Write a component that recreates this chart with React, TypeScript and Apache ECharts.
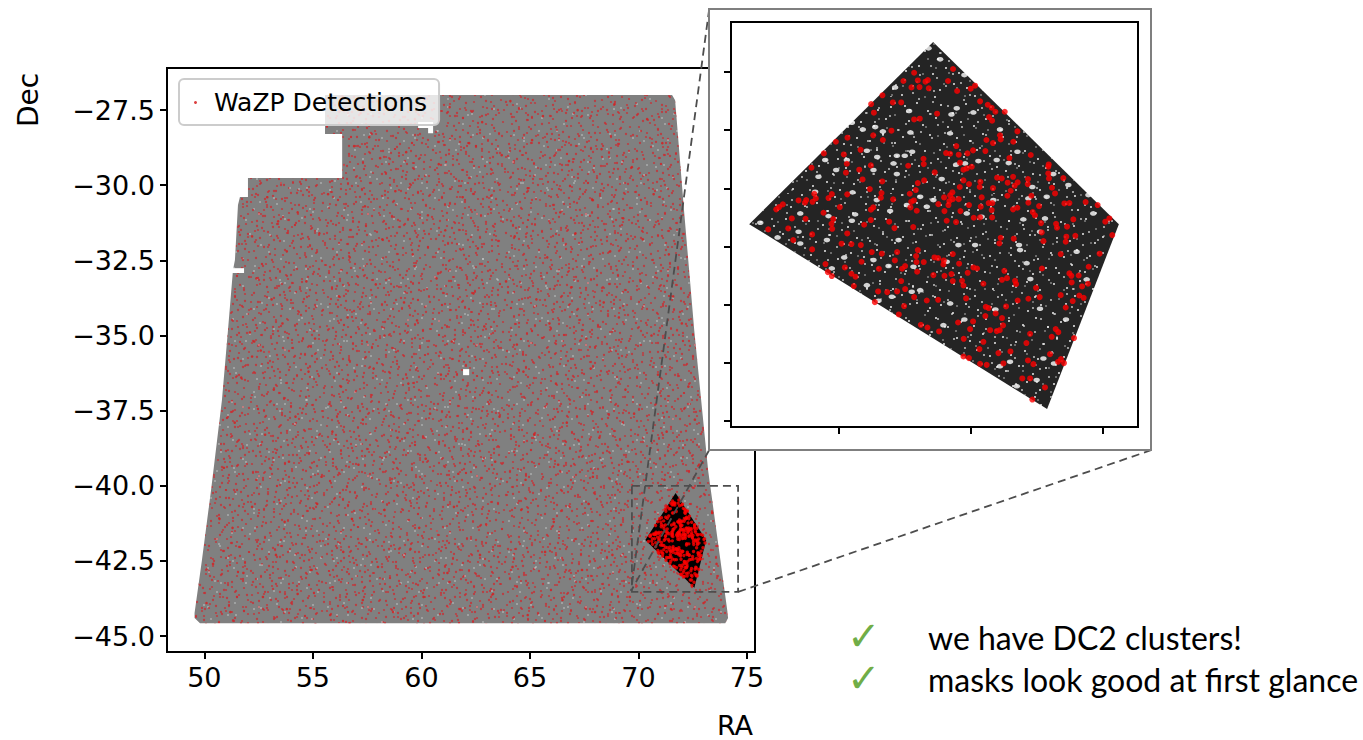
import React, { useEffect, useRef } from "react";
import * as echarts from "echarts";

const mainRaTicks = [50, 55, 60, 65, 70, 75];
const mainDecTicks = [-27.5, -30, -32.5, -35, -37.5, -40, -42.5, -45];
const insetRaTicks = [71, 72, 73];
const insetDecTicks = [-40.5, -41, -41.5, -42, -42.5, -43, -43.5];

const footprintOutline = [
  [55.56, -27.0], [71.55, -27.0], [71.69, -27.17], [72.1, -30.83], [72.57, -34.82], [73.21, -39.48],
  [74.09, -44.13], [74.13, -44.4], [74.0, -44.57], [49.8, -44.57], [49.55, -44.4], [49.55, -44.23],
  [49.89, -42.47], [50.31, -40.14], [50.81, -37.15], [51.09, -34.82], [51.32, -32.82], [51.41, -32.49],
  [51.55, -30.66], [51.64, -30.39], [52.01, -30.39], [52.01, -29.76], [56.35, -29.76], [56.35, -28.3],
  [55.56, -28.3],
];
const maskHoles = [
  [[61.92, -36.12], [62.2, -36.12], [62.2, -36.32], [61.92, -36.32]],
  [[51.2, -32.76], [51.83, -32.76], [51.83, -32.92], [51.2, -32.92]],
  [[59.85, -27.9], [60.54, -27.9], [60.54, -28.27], [60.31, -28.27], [60.31, -28.1], [59.85, -28.1]],
];
const cutoutOutline = [[71.712, -40.242], [73.12, -41.807], [72.576, -43.395], [70.318, -41.807]];
const zoomBox = [[69.7, -40.0], [74.59, -40.0], [74.59, -43.53], [69.7, -43.53], [69.7, -40.0]];
const connectorLines = [
  [[73.26, -24.14], [69.66, -43.5]],
  [[73.26, -38.81], [69.66, -43.5]],
  [[93.64, -38.81], [74.59, -43.53]],
];

const cutoutDetections = [
  [71.568,-40.506],[71.487,-40.577],[71.596,-40.572],[71.654,-40.583],[71.672,-40.569],[71.548,-40.632],[71.609,-40.629],[71.679,-40.64],
  [71.328,-40.7],[71.242,-40.775],[71.407,-40.761],[71.47,-40.761],[71.263,-40.849],[71.568,-40.907],[71.611,-40.901],[71.396,-41.004],
  [71.258,-41.044],[71.063,-41.064],[71.331,-41.084],[70.975,-41.099],[71.162,-41.168],[70.884,-41.199],[71.035,-41.208],[71.639,-41.245],
  [71.641,-41.291],[71.058,-41.288],[71.24,-41.302],[71.523,-41.305],[70.79,-41.322],[71.152,-41.339],[71.051,-41.365],[71.177,-41.423],
  [71.326,-41.44],[71.644,-41.431],[71.596,-41.454],[71.232,-41.506],[71.581,-41.514],[71.321,-41.54],[71.535,-41.546],[70.811,-41.546],
  [70.944,-41.549],[71.061,-41.551],[71.316,-41.58],[71.409,-41.594],[70.919,-41.583],[70.823,-41.586],[70.692,-41.603],[70.75,-41.6],
  [70.74,-41.623],[70.798,-41.615],[71.566,-41.603],[71.546,-41.615],[71.54,-41.663],[70.573,-41.637],[70.545,-41.66],[70.523,-41.68],
  [71.005,-41.66],[71.258,-41.663],[71.24,-41.683],[71.588,-41.692],[70.881,-41.709],[70.641,-41.758],[70.745,-41.761],[70.955,-41.763],
  [71.24,-41.772],[71.379,-41.786],[70.942,-41.804],[71.189,-41.812],[71.561,-41.832],[71.419,-41.841],[70.462,-41.852],[70.614,-41.844],
  [70.947,-41.847],
  [71.863,-40.474],[71.825,-40.577],[72.03,-40.617],[71.997,-40.643],[71.894,-40.663],[72.068,-40.752],[72.126,-40.781],[72.156,-40.807],
  [72.184,-40.841],[72.255,-40.841],[71.742,-40.858],[72.136,-40.887],[72.159,-40.918],[72.351,-41.01],[72.219,-41.044],[72.224,-41.079],
  [72.116,-41.084],[72.32,-41.099],[72.166,-41.11],[71.888,-41.136],[72.015,-41.173],[72.108,-41.179],[71.81,-41.196],[71.841,-41.202],
  [71.972,-41.199],[71.906,-41.21],[72.452,-41.213],[72.29,-41.239],[71.916,-41.279],[72.588,-41.294],[72.585,-41.314],[72.005,-41.314],
  [71.967,-41.328],[71.942,-41.339],[71.724,-41.362],[72.585,-41.371],[72.59,-41.414],[72.699,-41.411],[72.197,-41.408],[72.232,-41.414],
  [72.431,-41.42],[71.942,-41.431],[72.07,-41.443],[72.318,-41.4],[72.277,-41.451],[72.353,-41.448],[72.429,-41.463],[71.984,-41.463],
  [72.33,-41.477],[72.065,-41.488],[71.914,-41.488],[72.166,-41.497],[72.613,-41.494],[72.3,-41.52],[71.858,-41.534],[72.636,-41.543],
  [71.841,-41.56],[72.275,-41.563],[72.457,-41.563],[71.795,-41.577],[72.08,-41.577],[71.906,-41.592],[71.861,-41.592],[71.835,-41.609],
  [72.868,-41.617],[72.707,-41.629],[72.745,-41.626],[72.133,-41.626],[72.161,-41.626],[72.434,-41.623],[71.752,-41.635],[71.828,-41.643],
  [71.984,-41.643],[72.959,-41.643],[72.515,-41.652],[72.073,-41.657],[72.351,-41.666],[72.318,-41.68],[71.798,-41.695],[71.919,-41.695],
  [72.156,-41.686],[72.467,-41.703],[72.484,-41.732],[72.02,-41.752],[72.068,-41.749],[72.159,-41.749],[73.048,-41.758],[72.775,-41.766],
  [73.017,-41.786],[71.815,-41.778],[71.886,-41.789],[72.53,-41.798],[72.644,-41.804],[72.727,-41.829],[72.651,-41.838],
  [70.795,-41.895],[71.061,-41.887],[70.652,-41.944],[71.018,-41.975],[71.093,-41.978],[71.164,-41.987],[70.795,-42.024],[71.596,-42.03],
  [71.247,-42.047],[71.323,-42.061],[71.439,-42.047],[71.583,-42.081],[71.422,-42.119],[71.169,-42.13],[71.586,-42.133],[71.641,-42.133],
  [70.896,-42.15],[71.5,-42.167],[71.477,-42.19],[71.043,-42.179],[71.301,-42.19],[71.591,-42.216],[70.914,-42.219],[71.093,-42.233],
  [71.124,-42.259],[70.944,-42.253],[71.47,-42.296],[71.111,-42.339],[71.5,-42.365],[71.295,-42.385],[71.364,-42.391],[71.439,-42.385],
  [71.568,-42.434],[71.664,-42.463],[71.27,-42.477],[71.492,-42.511],[71.452,-42.583],[71.619,-42.672],[71.669,-42.695],
  [72.224,-41.924],[72.323,-41.932],[72.535,-41.878],[72.722,-41.915],[72.79,-41.907],[73.07,-41.901],[72.214,-41.973],[72.548,-41.953],
  [72.717,-41.958],[71.861,-42.064],[72.679,-42.064],[72.974,-42.061],[71.722,-42.093],[71.75,-42.099],[71.793,-42.119],[71.79,-42.153],
  [71.909,-42.147],[72.891,-42.173],[72.017,-42.179],[72.045,-42.188],[72.537,-42.188],[72.252,-42.208],[71.974,-42.225],[71.851,-42.236],
  [72.745,-42.23],[72.76,-42.251],[72.815,-42.248],[71.714,-42.245],[71.798,-42.251],[72.272,-42.271],[72.234,-42.285],[72.333,-42.294],
  [71.861,-42.296],[71.931,-42.294],[72.762,-42.308],[72.886,-42.319],[72.093,-42.319],[72.341,-42.322],[71.942,-42.334],[72.841,-42.342],
  [72.492,-42.354],[72.679,-42.417],[72.82,-42.42],[72.853,-42.44],[72.52,-42.434],[72.434,-42.448],[72.353,-42.463],[71.962,-42.445],
  [71.75,-42.457],[72.77,-42.468],[72.717,-42.523],[72.111,-42.517],[72.133,-42.528],[72.265,-42.514],[72.186,-42.574],[72.108,-42.597],
  [72.234,-42.614],[71.901,-42.652],[72.015,-42.643],[72.242,-42.677],[72.641,-42.709],[72.661,-42.735],[71.992,-42.709],[72.144,-42.718],
  [72.194,-42.726],[72.217,-42.718],[71.757,-42.729],[72.447,-42.749],[72.611,-42.775],[72.78,-42.786],[71.944,-42.792],[72.093,-42.818],
  [72.419,-42.829],[72.063,-42.881],[72.298,-42.901],[72.207,-42.915],[72.598,-42.924],[71.942,-42.944],[71.984,-42.958],[72.681,-42.967],
  [72.431,-42.978],[72.659,-42.99],[72.704,-43.001],[72.245,-43.004],[72.068,-43.007],[72.118,-43.016],[72.472,-43.01],[72.388,-43.133],
  [72.447,-43.133],[72.56,-43.21],[72.464,-43.314],
];

const cutoutMaskSpecks = [
  [71.288,-41.231],[71.437,-41.219],[71.331,-41.01],[71.53,-40.835],[71.54,-41.019],[71.096,-40.935],[71.424,-40.632],[71.497,-41.219],
  [71.21,-41.176],[70.977,-41.342],[70.818,-41.529],[71.101,-41.534],[71.386,-41.695],[70.919,-41.738],[71.096,-41.778],[71.121,-41.723],
  [71.437,-41.377],[71.553,-41.185],[71.273,-40.973],[71.179,-40.993],[71.677,-40.296],[70.402,-41.795],[70.705,-41.715],[71.058,-41.256],
  [70.894,-41.256],[71.285,-41.6],[71.513,-41.643],[71.614,-41.572],[71.664,-41.657],[71.412,-41.285],[71.26,-41.342],[70.843,-41.4],
  [71.851,-40.864],[71.886,-41.296],[72.055,-41.265],[72.285,-41.282],[71.954,-41.285],[72.464,-41.488],[72.56,-41.758],[72.396,-41.766],
  [71.777,-41.42],[71.714,-41.6],[72.08,-41.744],[72.219,-40.993],[72.017,-40.847],[71.765,-40.391],[71.949,-40.526],[71.891,-40.812],
  [72.194,-41.256],[72.351,-41.185],[72.623,-41.377],[72.737,-41.471],[72.434,-41.586],[72.573,-41.572],[72.926,-41.715],[72.889,-41.557],
  [71.967,-41.715],[71.84,-41.027],[72.169,-41.6],
  [71.374,-42.167],[71.038,-42.093],[71.298,-42.465],[71.55,-42.388],[70.907,-41.944],[70.533,-41.921],[70.692,-41.872],[71.26,-42.116],
  [71.45,-41.944],[71.614,-42.374],[71.21,-42.331],[71.399,-42.431],[70.705,-41.973],[70.944,-42.187],[71.563,-42.173],
  [72.421,-42.142],[72.449,-42.279],[72.363,-41.987],[71.815,-42.13],[72.184,-42.54],[71.841,-42.488],[71.949,-42.626],[72.719,-42.626],
  [72.522,-41.872],[72.628,-43.004],[72.497,-43.147],[72.346,-43.199],[72.219,-43.027],[72.522,-42.534],[72.876,-42.282],[71.904,-41.987],
  [72.03,-41.987],[71.79,-42.675],[72.371,-42.03],[72.295,-42.99],[72.548,-42.961],[72.8,-42.044],
];

const fieldDetections = [
  [57.2,-27.6],[58.4,-27.3],[59.7,-27.8],[61.3,-27.4],[62.8,-27.9],[64.1,-27.2],[65.6,-27.7],[67.2,-27.5],[68.9,-27.3],[70.4,-27.8],
  [56.9,-28.7],[58.1,-29.1],[57.6,-28.4],[59.3,-28.9],[60.8,-29.3],[62.2,-28.6],[63.7,-29.0],[65.1,-28.5],[66.8,-29.2],[68.3,-28.8],[69.7,-29.4],[71.1,-28.6],
  [52.9,-30.4],[54.3,-30.9],[55.7,-30.3],[53.4,-31.2],[57.4,-30.7],[58.8,-30.2],[60.3,-31.0],[61.9,-30.4],[63.2,-30.8],[64.9,-30.1],[66.4,-30.9],[67.9,-30.5],[69.3,-31.1],[70.7,-30.3],
  [52.2,-31.7],[53.8,-32.2],[55.3,-31.6],[56.7,-32.4],[58.2,-31.8],[59.6,-32.3],[61.1,-31.5],[62.6,-32.1],[64.3,-31.7],[65.8,-32.4],[67.1,-31.6],[68.7,-32.2],[70.2,-31.8],[71.4,-32.3],
  [52.4,-33.1],[53.1,-33.8],[54.7,-33.2],[56.2,-33.7],[57.9,-33.3],[59.2,-33.9],[60.7,-33.1],[62.4,-33.6],[63.9,-33.2],[65.3,-33.8],[66.9,-33.4],[68.4,-33.9],[70.1,-33.2],[71.6,-33.7],
  [52.1,-34.9],[52.3,-35.2],[52.6,-35.5],[52.2,-35.7],[53.6,-34.6],[55.1,-35.1],[56.6,-34.4],[58.3,-35.0],[59.8,-34.5],[61.4,-35.2],[62.9,-34.7],[64.4,-35.3],[65.9,-34.6],[67.6,-35.1],[69.1,-34.4],[70.6,-35.0],[72.0,-34.6],
  [51.7,-36.4],[53.2,-36.8],[54.8,-36.2],[56.3,-36.7],[57.8,-36.1],[59.4,-36.6],[60.9,-36.3],[63.1,-36.9],[64.7,-36.2],[66.2,-36.6],[67.8,-36.1],[69.4,-36.8],[70.9,-36.3],[72.3,-36.7],
  [51.4,-37.9],[52.8,-38.3],[54.2,-37.7],[55.9,-38.2],[57.3,-37.8],[58.9,-38.4],[60.4,-37.6],[62.1,-38.1],[63.6,-37.7],[65.2,-38.3],[66.7,-37.9],[68.2,-38.4],[69.8,-37.6],[71.3,-38.2],[72.6,-37.8],
  [50.9,-39.4],[52.4,-39.8],[53.9,-39.2],[55.4,-39.7],[57.1,-39.3],[58.6,-39.9],[60.2,-39.1],[61.7,-39.6],[63.4,-39.2],[64.8,-39.8],[66.3,-39.3],[67.9,-39.7],[69.5,-39.2],[71.2,-39.8],[72.8,-39.3],
  [50.7,-41.1],[51.3,-41.4],[52.2,-40.7],[53.7,-41.2],[55.2,-40.6],[56.8,-41.1],[58.3,-40.8],[59.9,-41.4],[61.5,-40.7],[63.0,-41.3],[64.6,-40.8],[66.1,-41.2],[67.7,-40.6],[69.2,-41.3],[73.4,-40.9],
  [50.4,-42.6],[51.8,-42.9],[53.3,-42.3],[54.9,-42.8],[56.4,-42.2],[58.0,-42.7],[59.5,-42.1],[61.2,-42.9],[62.7,-42.3],[64.2,-42.7],[65.7,-42.2],[67.4,-42.8],[68.8,-42.3],[70.3,-42.9],[73.6,-42.6],
  [50.1,-43.9],[51.2,-44.2],[52.7,-43.7],[53.8,-44.1],[54.3,-43.6],[55.8,-44.3],[57.3,-43.8],[58.7,-44.2],[60.1,-43.7],[61.8,-44.1],[63.3,-43.6],[64.9,-44.3],[66.5,-43.8],[68.0,-44.2],[69.6,-43.7],[71.5,-44.1],[73.0,-43.9],
];

const grayTileSpecks = [
  [3,7],[11,2],[19,13],[27,5],[34,17],[42,9],[51,3],[58,14],[66,6],[73,19],[82,11],[90,4],[97,16],[105,8],[113,21],
  [6,24],[15,31],[23,22],[31,36],[39,27],[47,33],[55,25],[63,38],[71,29],[79,35],[87,26],[95,39],[103,30],[111,37],[118,27],
  [2,44],[9,52],[18,46],[26,57],[35,49],[43,55],[52,43],[60,58],[68,47],[76,53],[85,45],[93,59],[101,50],[109,56],[116,46],
  [5,66],[13,73],[22,64],[30,78],[38,69],[46,75],[54,63],[62,79],[70,67],[78,74],[86,65],[94,77],[102,70],[110,62],[117,76],
  [4,88],[12,95],[20,84],[28,92],[37,86],[45,98],[53,83],[61,91],[69,96],[77,85],[84,93],[92,87],[100,97],[108,83],[115,92],
  [8,14],[24,10],[48,20],[74,9],[99,23],[16,40],[58,35],[83,41],[33,62],[89,71],[49,88],[106,90],[25,72],[65,55],[112,12],
];
const lightTileSpecks = [
  [14,9],[37,4],[62,18],[88,7],[108,15],[10,34],[44,41],[77,31],[99,44],[29,52],[56,67],[81,58],[17,79],[41,83],[67,88],[95,81],[114,68],[3,59],
];
const darkTileSpecks = [
  [5,6],[17,3],[28,11],[41,5],[53,13],[66,4],[78,10],[91,7],[9,21],[23,25],[36,18],[48,27],[61,22],[74,26],[86,19],[3,37],[16,42],[30,35],
  [44,44],[57,38],[70,41],[83,34],[95,43],[11,55],[25,51],[38,59],[51,53],[64,57],[77,50],[90,56],[6,71],[19,66],[33,74],[46,68],[59,73],
  [72,65],[85,72],[97,67],[13,86],[27,82],[40,90],[54,84],[67,88],[80,81],[93,89],[2,95],[35,97],[75,96],
];

const swapPairs = (pts: number[][]) => pts.map(([x, y]) => [y, x]);

function makeTile(w: number, h: number, base: string | null, layers: [number[][], string, number][]) {
  const c = document.createElement("canvas");
  c.width = w;
  c.height = h;
  const g = c.getContext("2d")!;
  if (base) {
    g.fillStyle = base;
    g.fillRect(0, 0, w, h);
  }
  for (const [pts, color, r] of layers) {
    g.fillStyle = color;
    for (const [x, y] of pts) {
      g.beginPath();
      g.arc(x, y, r, 0, Math.PI * 2);
      g.fill();
    }
  }
  return c;
}

const polygonSeries = (name: string, grid: number, polys: number[][][], fill: any, z: number) => ({
  type: "custom",
  name,
  xAxisIndex: grid,
  yAxisIndex: grid,
  z,
  silent: true,
  clip: false,
  data: polys.map((p) => p[0]),
  renderItem: (params: any, api: any) => ({
    type: "polygon",
    shape: { points: polys[params.dataIndex].map((p) => api.coord(p)) },
    style: { fill },
  }),
});

const dashStyle = { fill: "none", stroke: "#4d4d4d", lineWidth: 1.8, lineDash: [8, 5] };
const polylineSeries = (name: string, lines: number[][][], z: number) => ({
  type: "custom",
  name,
  xAxisIndex: 0,
  yAxisIndex: 0,
  z,
  silent: true,
  clip: false,
  data: lines.map((p) => p[p.length - 1]),
  renderItem: (params: any, api: any) => ({
    type: "polyline",
    shape: { points: lines[params.dataIndex].map((p) => api.coord(p)) },
    style: dashStyle,
  }),
});

const axisText = { fontFamily: "DejaVu Sans", fontSize: 27, color: "#000" };
const fmt = (v: number) => String(v).replace("-", "\u2212");
const tick = { lineStyle: { color: "#000", width: 2 }, length: 7 };

export default function App() {
  const ref = useRef<HTMLDivElement>(null);
  useEffect(() => {
    const chart = echarts.init(ref.current!, null, { renderer: "svg" });
    const red = "rgba(205,40,45,0.75)";
    const light = "rgba(225,230,230,0.8)";
    const patt = (c: any) => ({ image: c, repeat: "repeat" });
    const grayA = makeTile(120, 100, "#808080", [[grayTileSpecks, red, 1.1], [lightTileSpecks, light, 0.75]]);
    const grayB = makeTile(101, 121, null, [[swapPairs(grayTileSpecks), red, 1.1], [swapPairs(lightTileSpecks), light, 0.75]]);
    const grayC = makeTile(127, 107, null, [[grayTileSpecks, red, 1.15]]);
    const grayD = makeTile(109, 131, null, [[swapPairs(grayTileSpecks), red, 1.15], [lightTileSpecks, light, 0.75]]);
    const darkA = makeTile(100, 100, "#242424", [[darkTileSpecks, "rgba(245,245,245,0.9)", 1.05]]);
    const darkB = makeTile(103, 97, null, [[swapPairs(darkTileSpecks), "rgba(240,240,240,0.85)", 0.9]]);
    const darkC = makeTile(89, 109, null, [[darkTileSpecks, "rgba(240,240,240,0.8)", 0.8]]);
    const textEl = (text: string, x: number, y: number, fontSize: number, fontFamily: string, fill = "#000", extra: any = {}) => ({
      type: "text",
      x,
      y,
      ...extra,
      style: { text, fontSize, fontFamily, fill, align: extra.align || "left", verticalAlign: "middle" },
    });
    chart.setOption({
      animation: false,
      backgroundColor: "#fff",
      grid: [
        { left: 167, top: 68, width: 588, height: 584, show: true, borderColor: "#000", borderWidth: 2, backgroundColor: "#fff", z: 0 },
        { left: 731, top: 22, width: 407, height: 405, show: true, borderColor: "#000", borderWidth: 2, backgroundColor: "#fff", z: 20 },
      ],
      xAxis: [
        {
          type: "value", gridIndex: 0, min: 48.28, max: 75.37, z: 0,
          axisLine: { show: false }, splitLine: { show: false },
          axisTick: { ...tick, customValues: mainRaTicks },
          axisLabel: { ...axisText, margin: 12, customValues: mainRaTicks, formatter: fmt },
        },
        {
          type: "value", gridIndex: 1, min: 70.18, max: 73.265, z: 21,
          axisLine: { show: false }, splitLine: { show: false },
          axisTick: { ...tick, customValues: insetRaTicks },
          axisLabel: { show: false },
        },
      ],
      yAxis: [
        {
          type: "value", gridIndex: 0, min: -45.53, max: -26.1, z: 0,
          axisLine: { show: false }, splitLine: { show: false },
          axisTick: { ...tick, customValues: mainDecTicks },
          axisLabel: { ...axisText, margin: 12, customValues: mainDecTicks, formatter: (v: number) => fmt(v).includes(".") ? fmt(v) : fmt(v) + ".0" },
        },
        {
          type: "value", gridIndex: 1, min: -43.55, max: -40.07, z: 21,
          axisLine: { show: false }, splitLine: { show: false },
          axisTick: { ...tick, customValues: insetDecTicks },
          axisLabel: { show: false },
        },
      ],
      legend: {
        data: ["WaZP Detections"],
        left: 179,
        top: 79,
        z: 5,
        icon: "circle",
        itemWidth: 3,
        itemHeight: 3,
        padding: [11, 12, 10, 15],
        backgroundColor: "rgba(255,255,255,0.8)",
        borderColor: "#ccc",
        borderWidth: 2,
        borderRadius: 5,
        textStyle: { fontFamily: "DejaVu Sans", fontSize: 25, color: "#000", padding: [0, 0, 0, 12] },
      },
      series: [
        polygonSeries("Footprint", 0, [footprintOutline], patt(grayA), 1),
        polygonSeries("Footprint speckle", 0, [footprintOutline], patt(grayB), 1.1),
        polygonSeries("Footprint speckle fine", 0, [footprintOutline], patt(grayC), 1.2),
        polygonSeries("Footprint speckle extra", 0, [footprintOutline], patt(grayD), 1.3),
        polygonSeries("Masks", 0, maskHoles, "#fff", 1.5),
        polygonSeries("Cutout", 0, [cutoutOutline], "#000", 2),
        {
          type: "scatter", name: "WaZP Detections", xAxisIndex: 0, yAxisIndex: 0, z: 3, silent: true,
          symbol: "circle", symbolSize: 2.6, itemStyle: { color: "#d62020", opacity: 0.85 }, data: fieldDetections,
        },
        {
          type: "scatter", name: "Cutout detections", xAxisIndex: 0, yAxisIndex: 0, z: 3, silent: true,
          symbol: "circle", symbolSize: 3.4, itemStyle: { color: "#ff0000" }, data: cutoutDetections,
        },
        polylineSeries("Zoom box", [zoomBox], 4),
        polylineSeries("Connectors", connectorLines, 4),
        polygonSeries("Inset cutout", 1, [cutoutOutline], patt(darkA), 20),
        polygonSeries("Inset cutout speckle", 1, [cutoutOutline], patt(darkB), 20.3),
        polygonSeries("Inset cutout speckle fine", 1, [cutoutOutline], patt(darkC), 20.5),
        {
          type: "scatter", name: "Inset masks", xAxisIndex: 1, yAxisIndex: 1, z: 21, silent: true,
          symbol: "circle", symbolSize: [6.5, 4.6], itemStyle: { color: "#fff" }, data: cutoutMaskSpecks,
        },
        {
          type: "scatter", name: "Inset detections", xAxisIndex: 1, yAxisIndex: 1, z: 22, silent: true,
          symbol: "circle", symbolSize: 6, itemStyle: { color: "#ff0000" }, data: cutoutDetections,
        },
      ],
      graphic: {
        z: 10,
        elements: [
          { type: "rect", z: 10, shape: { x: 709, y: 9, width: 442, height: 441 }, style: { fill: "#fff", stroke: "#7f7f7f", lineWidth: 2 } },
          textEl("RA", 735, 725, 27, "DejaVu Sans", "#000", { align: "center" }),
          textEl("Dec", 28, 100, 28, "DejaVu Sans", "#000", { align: "center", rotation: Math.PI / 2 }),
          textEl("\u2713", 847, 636, 40, "DejaVu Sans", "#70ad47"),
          textEl("\u2713", 847, 678, 40, "DejaVu Sans", "#70ad47"),
          textEl("we have DC2 clusters!", 928, 637, 32, "Lato"),
          textEl("masks look good at first glance", 928, 679, 32, "Lato"),
        ],
      },
    });
    return () => chart.dispose();
  }, []);
  return <div ref={ref} style={{ position: "fixed", left: 0, top: 0, width: 1363, height: 740 }} />;
}
